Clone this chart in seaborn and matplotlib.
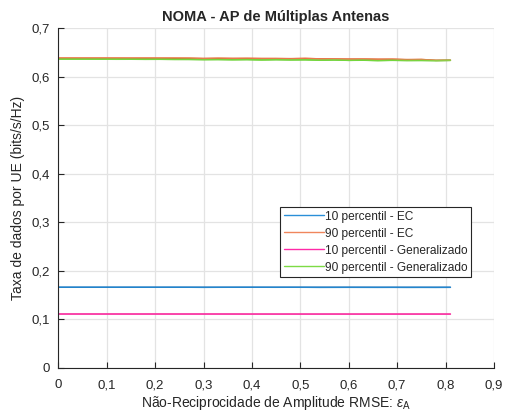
import numpy as np
import pandas as pd
import matplotlib
matplotlib.use("Agg")
import matplotlib.pyplot as plt
import seaborn as sns

# Amplitude non-reciprocity RMSE values (x axis)
eps_a = [0.00, 0.03, 0.06, 0.09, 0.12, 0.15, 0.18, 0.21, 0.24, 0.27,
         0.30, 0.33, 0.36, 0.39, 0.42, 0.45, 0.48, 0.51, 0.54, 0.57,
         0.60, 0.63, 0.66, 0.69, 0.72, 0.75, 0.78, 0.81]

# 10th / 90th percentile per-UE rate, EC scheme
p10_ec = [0.1664, 0.1664, 0.1664, 0.1664, 0.1663, 0.1664, 0.1664, 0.1663, 0.1664, 0.1663,
          0.1660, 0.1662, 0.1663, 0.1664, 0.1663, 0.1662, 0.1663, 0.1662, 0.1659, 0.1660,
          0.1661, 0.1660, 0.1661, 0.1662, 0.1660, 0.1661, 0.1660, 0.1662]
p90_ec = [0.6392, 0.6392, 0.6391, 0.6392, 0.6391, 0.6391, 0.6392, 0.6391, 0.6392, 0.6390,
          0.6375, 0.6388, 0.6380, 0.6386, 0.6378, 0.6380, 0.6372, 0.6385, 0.6370, 0.6368,
          0.6362, 0.6372, 0.6360, 0.6368, 0.6350, 0.6360, 0.6338, 0.6340]

# 10th / 90th percentile per-UE rate, generalized scheme
p10_gen = [0.1111, 0.1111, 0.1111, 0.1110, 0.1111, 0.1110, 0.1110, 0.1111, 0.1110, 0.1110,
           0.1110, 0.1110, 0.1109, 0.1110, 0.1110, 0.1109, 0.1110, 0.1109, 0.1109, 0.1110,
           0.1109, 0.1109, 0.1110, 0.1109, 0.1109, 0.1110, 0.1109, 0.1109]
p90_gen = [0.6362, 0.6362, 0.6361, 0.6362, 0.6360, 0.6361, 0.6358, 0.6360, 0.6356, 0.6359,
           0.6352, 0.6356, 0.6350, 0.6356, 0.6345, 0.6356, 0.6348, 0.6352, 0.6340, 0.6350,
           0.6338, 0.6344, 0.6332, 0.6342, 0.6336, 0.6338, 0.6332, 0.6340]

# Reference (mean) curves drawn underneath in darker tones
ref_p10_ec = [0.1664, 0.1664, 0.1664, 0.1664, 0.1664, 0.1664, 0.1664, 0.1664, 0.1664, 0.1664,
              0.1664, 0.1664, 0.1664, 0.1664, 0.1664, 0.1664, 0.1664, 0.1664, 0.1664, 0.1664,
              0.1664, 0.1664, 0.1663, 0.1663, 0.1663, 0.1663, 0.1663, 0.1663]
ref_p90_ec = [0.6385, 0.6385, 0.6385, 0.6385, 0.6385, 0.6384, 0.6384, 0.6384, 0.6383, 0.6382,
              0.6378, 0.6380, 0.6378, 0.6378, 0.6376, 0.6375, 0.6374, 0.6376, 0.6370, 0.6368,
              0.6365, 0.6366, 0.6362, 0.6362, 0.6355, 0.6356, 0.6340, 0.6342]
ref_p10_gen = [0.1113, 0.1113, 0.1113, 0.1113, 0.1113, 0.1113, 0.1113, 0.1113, 0.1113, 0.1113,
               0.1113, 0.1113, 0.1113, 0.1112, 0.1112, 0.1112, 0.1112, 0.1112, 0.1112, 0.1112,
               0.1112, 0.1112, 0.1112, 0.1112, 0.1112, 0.1112, 0.1112, 0.1112]
ref_p90_gen = [0.6365, 0.6365, 0.6365, 0.6364, 0.6364, 0.6363, 0.6362, 0.6362, 0.6360, 0.6358,
               0.6355, 0.6356, 0.6352, 0.6354, 0.6348, 0.6352, 0.6348, 0.6350, 0.6342, 0.6346,
               0.6340, 0.6342, 0.6336, 0.6340, 0.6336, 0.6337, 0.6334, 0.6338]

labels = ["10 percentil - EC", "90 percentil - EC",
          "10 percentil - Generalizado", "90 percentil - Generalizado"]
light_colors = ["#2a8fd8", "#f0865c", "#ff2aa8", "#7ddb45"]
dark_colors = ["#0f68b0", "#d9531a", "#f0409a", "#5ec92a"]

sns.set_theme(style="white")
plt.rcParams["font.family"] = ["Liberation Sans", "DejaVu Sans"]
plt.rcParams["mathtext.fontset"] = "custom"
plt.rcParams["mathtext.rm"] = "Liberation Sans"
plt.rcParams["mathtext.it"] = "Liberation Sans:italic"

fig = plt.figure(figsize=(5.08, 4.16), dpi=100)
ax = fig.add_axes([0.1148, 0.1154, 0.8576, 0.8166])

for ys, c in zip([ref_p10_ec, ref_p90_ec, ref_p10_gen, ref_p90_gen], dark_colors):
    sns.lineplot(x=eps_a, y=ys, ax=ax, color=c, linewidth=1.1, legend=False)

for ys, c, lab in zip([p10_ec, p90_ec, p10_gen, p90_gen], light_colors, labels):
    sns.lineplot(x=eps_a, y=ys, ax=ax, color=c, linewidth=1.0, alpha=0.75, label=lab)

ax.set_xlim(0, 0.9)
ax.set_ylim(0, 0.7)
ax.set_xticks(np.arange(0, 0.91, 0.1))
ax.set_yticks(np.arange(0, 0.71, 0.1))
fmt = lambda v: "0" if abs(v) < 1e-9 else f"{v:.1f}".replace(".", ",")
ax.set_xticklabels([fmt(v) for v in np.arange(0, 0.91, 0.1)])
ax.set_yticklabels([fmt(v) for v in np.arange(0, 0.71, 0.1)])

ax.grid(True, color="#e3e3e3", linewidth=0.9)
ax.set_axisbelow(True)
for s in ["top", "right"]:
    ax.spines[s].set_visible(False)
for s in ["left", "bottom"]:
    ax.spines[s].set_color("#262626")
    ax.spines[s].set_linewidth(0.8)
ax.tick_params(direction="in", length=4, width=0.8, color="#262626",
               labelsize=9.5, labelcolor="#262626", bottom=True, left=True)
ax.tick_params(axis="x", pad=8)
ax.tick_params(axis="y", pad=6)

ax.set_title("NOMA - AP de Múltiplas Antenas", fontsize=10.5, fontweight="bold", pad=5)
ax.set_xlabel("Não-Reciprocidade de Amplitude RMSE: $\\epsilon_{\\rm A}$", fontsize=10,
              color="#262626", labelpad=2)
ax.set_ylabel("Taxa de dados por UE (bits/s/Hz)", fontsize=10, color="#262626", labelpad=5)

leg = ax.legend(loc="upper left", bbox_to_anchor=(0.509, 0.474), fontsize=8.6,
                frameon=True, fancybox=False, edgecolor="#262626", framealpha=1,
                handlelength=3.35, handletextpad=0.1, borderpad=0.3, labelspacing=0.42,
                borderaxespad=0)
leg.get_frame().set_linewidth(0.8)
for h in leg.get_lines():
    h.set_alpha(1)
    h.set_linewidth(1.0)

fig.savefig("out.png", dpi=100)
